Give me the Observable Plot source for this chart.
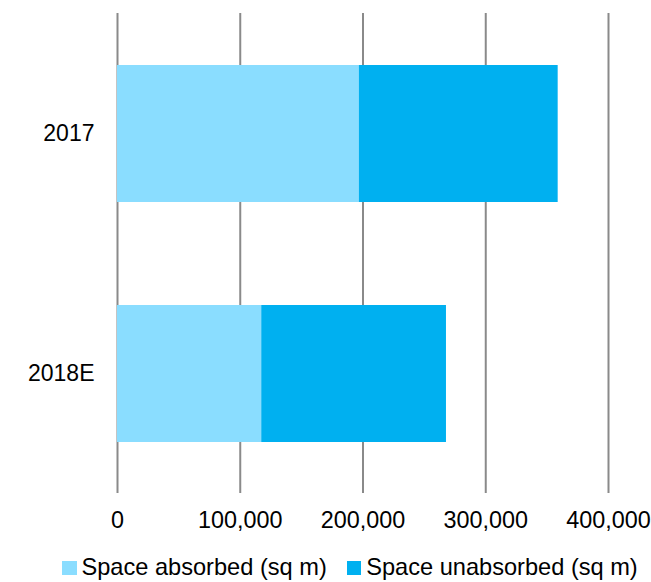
<!DOCTYPE html>
<html>
<head>
<meta charset="utf-8">
<script src="https://cdn.jsdelivr.net/npm/d3@7"></script>
<script src="https://cdn.jsdelivr.net/npm/@observablehq/plot@0.6"></script>
<style>
  html, body { margin: 0; padding: 0; background: #fff; }
  #wrap { position: relative; width: 651px; height: 582px; overflow: hidden; font-family: "Liberation Sans", Arial, sans-serif; }
  #legend { position: absolute; left: 62px; top: 555px; display: flex; align-items: center; font-size: 23.6px; line-height: 24px; color: #000; white-space: nowrap; }
  #legend .item { display: flex; align-items: center; margin-right: 20px; }
  #legend .sw { width: 14.5px; height: 14.5px; margin-right: 5px; position: relative; top: 1px; }
</style>
</head>
<body>
<div id="wrap">
  <div id="chart"></div>
  <div id="legend"></div>
</div>
<script>
// Years on the vertical axis
const years = ["2017", "2018E"];
// Office space, square metres
const absorbed = [197000, 117500];
const unabsorbed = [162000, 150500];
// Series names and their colours
const seriesNames = ["Space absorbed (sq m)", "Space unabsorbed (sq m)"];
const seriesColors = ["#8addff", "#00b0f0"];
// Value axis ticks
const xTicks = [0, 100000, 200000, 300000, 400000];

const rows = [];
years.forEach((y, i) => {
  rows.push({year: y, series: seriesNames[0], value: absorbed[i]});
  rows.push({year: y, series: seriesNames[1], value: unabsorbed[i]});
});

const chart = Plot.plot({
  width: 651,
  height: 550,
  marginLeft: 117,
  marginRight: 43,
  marginTop: 13,
  marginBottom: 57,
  style: {fontFamily: '"Liberation Sans", Arial, sans-serif', fontSize: "23.4px", color: "#000", background: "#fff"},
  x: {domain: [0, 400000], label: null},
  y: {domain: years, paddingInner: 0.43, paddingOuter: 0.215, label: null},
  color: {domain: seriesNames, range: seriesColors},
  marks: [
    Plot.ruleX(xTicks, {stroke: "#8a8a8a", strokeWidth: 2}),
    Plot.barX(rows, Plot.stackX({y: "year", x: "value", fill: "series", order: seriesNames})),
    Plot.axisX({ticks: xTicks, tickFormat: d3.format(","), tickSize: 0, tickPadding: 18, fontSize: 23.4, label: null}),
    Plot.axisY({tickSize: 0, tickPadding: 23, fontSize: 23, label: null})
  ]
});
document.getElementById("chart").appendChild(chart);

const legend = document.getElementById("legend");
seriesNames.forEach((name, i) => {
  const item = document.createElement("div");
  item.className = "item";
  const sw = document.createElement("span");
  sw.className = "sw";
  sw.style.background = seriesColors[i];
  const label = document.createElement("span");
  label.textContent = name;
  item.appendChild(sw);
  item.appendChild(label);
  legend.appendChild(item);
});
</script>
</body>
</html>
